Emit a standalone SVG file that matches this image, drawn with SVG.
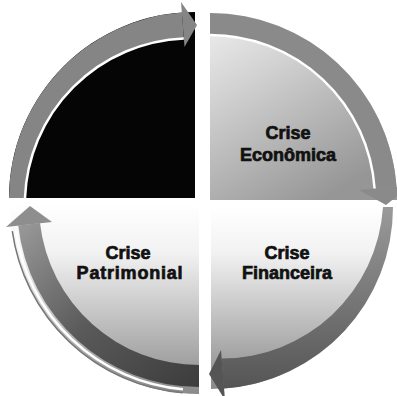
<svg xmlns="http://www.w3.org/2000/svg" width="397" height="396" viewBox="0 0 397 396">
  <defs>
    <linearGradient id="gTR" x1="0" y1="0" x2="0.6" y2="1">
      <stop offset="0" stop-color="#f0f0f0"/>
      <stop offset="0.35" stop-color="#d2d2d2"/>
      <stop offset="1" stop-color="#969696"/>
    </linearGradient>
    <linearGradient id="gLow" x1="0" y1="0" x2="0" y2="1">
      <stop offset="0" stop-color="#ffffff"/>
      <stop offset="0.25" stop-color="#f2f2f2"/>
      <stop offset="1" stop-color="#8a8a8a"/>
    </linearGradient>
    <linearGradient id="gBand" x1="1" y1="1" x2="0" y2="0">
      <stop offset="0" stop-color="#3c3c3c"/>
      <stop offset="0.5" stop-color="#5a5a5a"/>
      <stop offset="1" stop-color="#9a9a9a"/>
    </linearGradient>
    <linearGradient id="gBR" x1="0" y1="0" x2="0" y2="1">
      <stop offset="0" stop-color="#9a9a9a"/>
      <stop offset="1" stop-color="#555555"/>
    </linearGradient>
    <style>
      .lbl { font-family: "Liberation Sans", Arial, sans-serif; font-weight: bold; font-size: 18px; fill: #111; stroke: #111; stroke-width: 0.7; text-anchor: middle; }
      .sep { fill: none; stroke: #ffffff; stroke-width: 2.5; }
    </style>
  </defs>

  <rect width="397" height="396" fill="#ffffff"/>

  <g id="quadrant-top-left">
    <path d="M195,198 L9,198 A186,186 0 0 1 195,12 Z" fill="#050505"/>
  </g>

  <g id="crise-economica">
    <path d="M210,200 L210,13 A187,187 0 0 1 397,200 Z" fill="url(#gTR)"/>
    <text class="lbl" x="288" y="139">Crise</text>
    <text class="lbl" x="288" y="161">Econômica</text>
  </g>

  <g id="crise-financeira">
    <path d="M211,207 L393,207 A182,182 0 0 1 211,389 Z" fill="url(#gLow)"/>
    <text class="lbl" x="287" y="259">Crise</text>
    <text class="lbl" x="287" y="279">Financeira</text>
  </g>

  <g id="crise-patrimonial">
    <path d="M199,205 L199,394 A189,189 0 0 1 10,205 Z" fill="url(#gLow)"/>
    <text class="lbl" x="128" y="259">Crise</text>
    <text class="lbl" x="130" y="279" letter-spacing="0.8">Patrimonial</text>
  </g>

  <g id="connectors">
    <!-- top-left arrow -->
    <path d="M9,198 A186,186 0 0 1 182,12.5 L183.8,38.4 A166,166 0 0 0 25,198 Z" fill="#858585"/>
    <polygon points="181,2 197,25 184.5,47" fill="#858585"/>
    <path class="sep" d="M183.8,38.4 A166,166 0 0 0 25,198"/>

    <!-- top-right arrow -->
    <path d="M210,13 A187,187 0 0 1 396.5,187 L374.6,188.5 A165,165 0 0 0 210,35 Z" fill="#8a8a8a"/>
    <polygon points="359,190 410,186 386,205" fill="#8a8a8a"/>
    <path class="sep" d="M210,35 A165,165 0 0 1 374.6,188.5"/>

    <!-- bottom-right arrow -->
    <path d="M393,207 A182,182 0 0 1 223.7,388.6 L221.6,358.6 A162,162 0 0 0 383,207 Z" fill="url(#gBR)"/>
    <polygon points="221,350 225,400 209,374" fill="#555555"/>

    <!-- bottom-left arrow -->
    <path d="M199,387 A182,182 0 0 1 18.2,225.6 L40,223.1 A160,160 0 0 0 199,365 Z" fill="url(#gBand)"/>
    <polygon points="6,227 30,206 52,222" fill="#8e8e8e"/>
    <path class="sep" d="M182.9,389.3 A185,185 0 0 1 15.8,230.7"/>
    <path d="M182.6,392.8 A188.5,188.5 0 0 1 12.3,231.2" fill="none" stroke="#777777" stroke-width="1.5"/>
  </g>
</svg>
